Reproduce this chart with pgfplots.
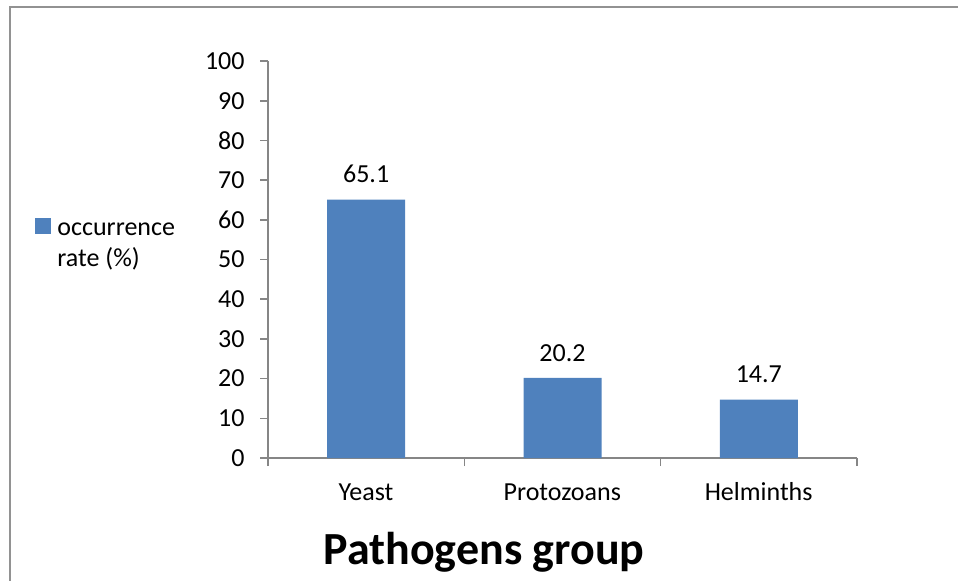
\documentclass[border=0pt]{standalone}
\usepackage{pgfplots}
\pgfplotsset{compat=1.18}
\usepackage{fontspec}
\setmainfont{Carlito}
\definecolor{barblue}{HTML}{4F81BD}
\definecolor{axgray}{HTML}{868686}
\begin{document}
\begin{tikzpicture}
\useasboundingbox (0,0) rectangle (479pt,290pt);
\draw[color=axgray!90, line width=1pt] (5pt,-2pt) -- (5pt,286.5pt) -- (481pt,286.5pt);
\begin{axis}[
  at={(134pt,61pt)}, anchor=south west,
  scale only axis, width=294.5pt, height=198.5pt,
  xmin=-0.5, xmax=2.5, ymin=0, ymax=100,
  axis x line*=bottom, axis y line*=left,
  axis line style={draw=axgray, line width=0.8pt, -},
  ytick={0,10,...,100},
  xtick={-0.5,0.5,1.5,2.5},
  xticklabels={Yeast,Protozoans,Helminths,{}},
  x tick label style={xshift=49pt, yshift=-4pt, font=\fontsize{13pt}{15pt}\selectfont, text height=9.5pt, text depth=2.5pt},
  y tick label style={font=\fontsize{13pt}{15pt}\selectfont, xshift=-4.2pt},
  tick align=outside, major tick length=4pt,
  tick style={draw=axgray, line width=0.8pt},
  /pgf/number format/assume math mode=true,
  ybar, bar width=39pt,
  nodes near coords,
  every node near coord/.append style={font=\fontsize{13pt}{15pt}\selectfont, yshift=4.7pt, /pgf/number format/fixed, /pgf/number format/precision=1},
  legend style={at={(-0.4058,0.534)}, anchor=west, draw=none, fill=none,
    font=\fontsize{13pt}{15.5pt}\selectfont, nodes={align=left, inner xsep=3pt}},
  legend cell align=left,
  legend image code/.code={\fill[#1] (-1pt,6pt) rectangle (7pt,14pt);},
  clip=false,
]
\addplot[fill=barblue, draw=none] coordinates {(0,65.1) (1,20.2) (2,14.7)};
\legend{occurrence\\rate (\%)}
\end{axis}
\node[anchor=base, font=\fontsize{23pt}{27pt}\selectfont\bfseries] at (242pt,8pt) {Pathogens group};
\end{tikzpicture}
\end{document}
